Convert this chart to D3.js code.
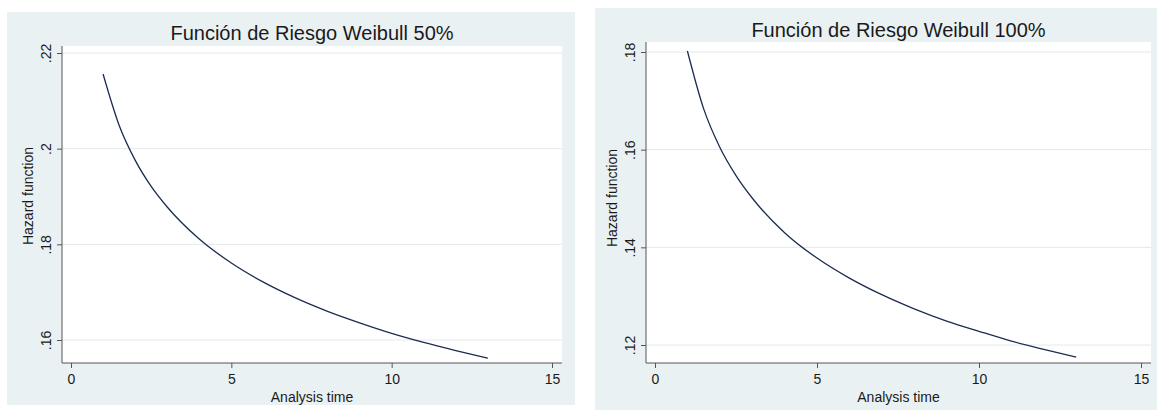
<!DOCTYPE html>
<html>
<head>
<meta charset="utf-8">
<script src="https://d3js.org/d3.v7.min.js"></script>
<style>
  body { margin: 0; background: #fff; }
  svg text { font-family: "Liberation Sans", Arial, sans-serif; fill: #1a1a1a; }
</style>
</head>
<body>
<svg id="chart" width="1157" height="410"></svg>
<script>
// values
const times = [1, 1.5, 2, 2.5, 3, 4, 5, 6, 7, 8, 9, 10, 11, 12, 13];
const hazard50 = [.2156, .2049, .1976, .1921, .1878, .1811, .1761, .1721, .1688, .1660, .1636, .1614, .1595, .1578, .1562];
const hazard100 = [.1802, .1684, .1605, .1547, .1501, .1430, .1378, .1337, .1303, .1274, .1249, .1228, .1208, .1191, .1175];
const xTicks = [0, 5, 10, 15];
const yTicks50 = [.16, .18, .2, .22];
const yTicks100 = [.12, .14, .16, .18];
const titles = ["Función de Riesgo Weibull 50%", "Función de Riesgo Weibull 100%"];
const xTitle = "Analysis time";
const yTitle = "Hazard function";

const svg = d3.select("svg#chart");
const fmt = d => String(d).replace(/^0\./, ".");

// layout of each panel (pixels)
const panels = [
  {values: hazard50, yTicks: yTicks50, title: titles[0],
   bg: [7, 12, 575, 405], plot: [62, 46, 562, 363],
   x0: 71, x1: 552, yLo: 340, yHi: 53, titleY: 40, yTitleY: 196},
  {values: hazard100, yTicks: yTicks100, title: titles[1],
   bg: [595, 8, 1157, 410], plot: [646, 42, 1151, 363],
   x0: 655, x1: 1141, yLo: 345, yHi: 52, titleY: 37, yTitleY: 198}
];

panels.forEach(p => {
  const g = svg.append("g");
  const [bx0, by0, bx1, by1] = p.bg;
  const [px0, py0, px1, py1] = p.plot;

  g.append("rect").attr("x", bx0).attr("y", by0)
    .attr("width", bx1 - bx0).attr("height", by1 - by0).attr("fill", "#eaf1f3");
  g.append("rect").attr("x", px0).attr("y", py0)
    .attr("width", px1 - px0).attr("height", py1 - py0).attr("fill", "#fff");

  const x = d3.scaleLinear().domain([0, 15]).range([p.x0, p.x1]);
  const yExt = d3.extent(p.yTicks);
  const y = d3.scaleLinear().domain(yExt).range([p.yLo, p.yHi]);

  // grid
  g.selectAll("line.grid").data(p.yTicks).join("line")
    .attr("class", "grid")
    .attr("x1", px0).attr("x2", px1)
    .attr("y1", d => y(d)).attr("y2", d => y(d))
    .attr("stroke", "#e1eaed").attr("stroke-width", 1);

  // curve
  const pts = times.map((t, i) => [t, p.values[i]]);
  g.append("path").datum(pts)
    .attr("fill", "none").attr("stroke", "#1c2c50").attr("stroke-width", 1.3)
    .attr("d", d3.line().x(d => x(d[0])).y(d => y(d[1])).curve(d3.curveMonotoneX));

  // axes
  const ax = g.append("g").attr("transform", `translate(0,${py1})`)
    .call(d3.axisBottom(x).tickValues(xTicks).tickSize(5).tickPadding(6));
  const ay = g.append("g").attr("transform", `translate(${px0},0)`)
    .call(d3.axisLeft(y).tickValues(p.yTicks).tickFormat(fmt).tickSize(5));
  [ax, ay].forEach(a => {
    a.select(".domain").remove();
    a.selectAll(".tick line").attr("stroke", "#555");
    a.selectAll("text").attr("font-size", 14).attr("fill", "#1a1a1a")
      .attr("font-family", "Liberation Sans, Arial, sans-serif");
  });
  ay.selectAll(".tick text")
    .attr("transform", "rotate(-90)")
    .attr("x", 0).attr("y", -11).attr("dy", 0)
    .attr("text-anchor", "middle");

  g.append("line").attr("x1", px0).attr("x2", px0).attr("y1", py0).attr("y2", py1)
    .attr("stroke", "#555");
  g.append("line").attr("x1", px0).attr("x2", px1).attr("y1", py1).attr("y2", py1)
    .attr("stroke", "#555");

  const cx = (px0 + px1) / 2;
  g.append("text").attr("x", cx).attr("y", p.titleY)
    .attr("text-anchor", "middle").attr("font-size", 20).text(p.title);
  g.append("text").attr("x", cx).attr("y", 402)
    .attr("text-anchor", "middle").attr("font-size", 14).text(xTitle);
  g.append("text")
    .attr("transform", `translate(${px0 - 29},${p.yTitleY}) rotate(-90)`)
    .attr("text-anchor", "middle").attr("font-size", 14).text(yTitle);
});
</script>
</body>
</html>
